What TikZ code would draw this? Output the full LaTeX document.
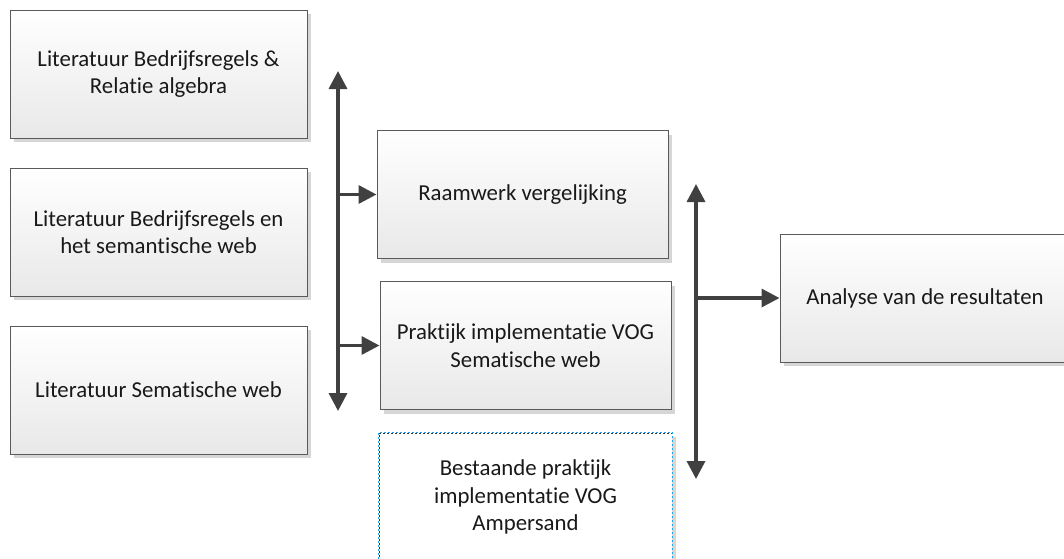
\documentclass[tikz,border=0pt]{standalone}
\usepackage{fontspec}
\setmainfont{Carlito}[Ligatures=NoCommon]
\usetikzlibrary{arrows.meta,shadows}
\definecolor{linegray}{HTML}{404040}
\definecolor{boxborder}{HTML}{5A5A5A}
\definecolor{dashblue}{HTML}{1EA6F0}
\tikzset{
  x=1pt, y=-1pt,
  stepbox/.style={draw=boxborder, line width=1pt, top color=white, bottom color=black!9,
    minimum width=#1, minimum height=128pt, inner sep=0pt, align=center,
    font=\fontsize{22.8}{27.5}\selectfont, text=black!90,
    drop shadow={shadow xshift=4pt, shadow yshift=-4pt, fill=black!16, opacity=1}},
  stepbox/.default=297pt,
  flow/.style={draw=linegray, line width=3.4pt, -{Triangle[length=18pt,width=18pt]}},
  bothflow/.style={draw=linegray, line width=3.4pt, {Triangle[length=18pt,width=18pt]}-{Triangle[length=18pt,width=18pt]}}
}
\begin{document}
\begin{tikzpicture}
\useasboundingbox (0,0) rectangle (1064,558);
\clip (0,0) rectangle (1064,558);

% literature sources
\node[stepbox] (litra) at (158.5,74) {Literatuur Bedrijfsregels \&\\Relatie algebra};
\node[stepbox] (litsw) at (158.5,232) {Literatuur Bedrijfsregels en\\het semantische web};
\node[stepbox] (litsem) at (158.5,390) {Literatuur Sematische web};

% middle column
\node[stepbox=291pt] (raam) at (522.5,194.5) {Raamwerk vergelijking};
\node[stepbox=291pt] (prak) at (525.5,345.5) {Praktijk implementatie VOG\\Sematische web};
\node[stepbox=293pt, top color=white, bottom color=white, draw=black!80, dash pattern=on 2pt off 2pt, line width=0.9pt] (best) at (525.5,497) {Bestaande praktijk\\implementatie VOG\\Ampersand};
\draw[dashblue, line width=0.9pt, dash pattern=on 2pt off 2pt, dash phase=2pt]
  (best.south west) rectangle (best.north east);

% result
\node[stepbox=290pt] (anal) at (925,298) {Analyse van de resultaten};

% first distribution line
\coordinate (v1top) at (338,71);
\coordinate (v1bot) at (338,411);
\draw[bothflow] (v1top) -- (v1bot);
\draw[flow] (338,194.5) -- (raam.west);
\draw[flow] (338,345.5) -- (prak.west);

% second distribution line
\coordinate (v2top) at (696,184);
\coordinate (v2bot) at (696,479);
\draw[bothflow] (v2top) -- (v2bot);
\draw[flow] (696,298) -- (anal.west);
\end{tikzpicture}
\end{document}
